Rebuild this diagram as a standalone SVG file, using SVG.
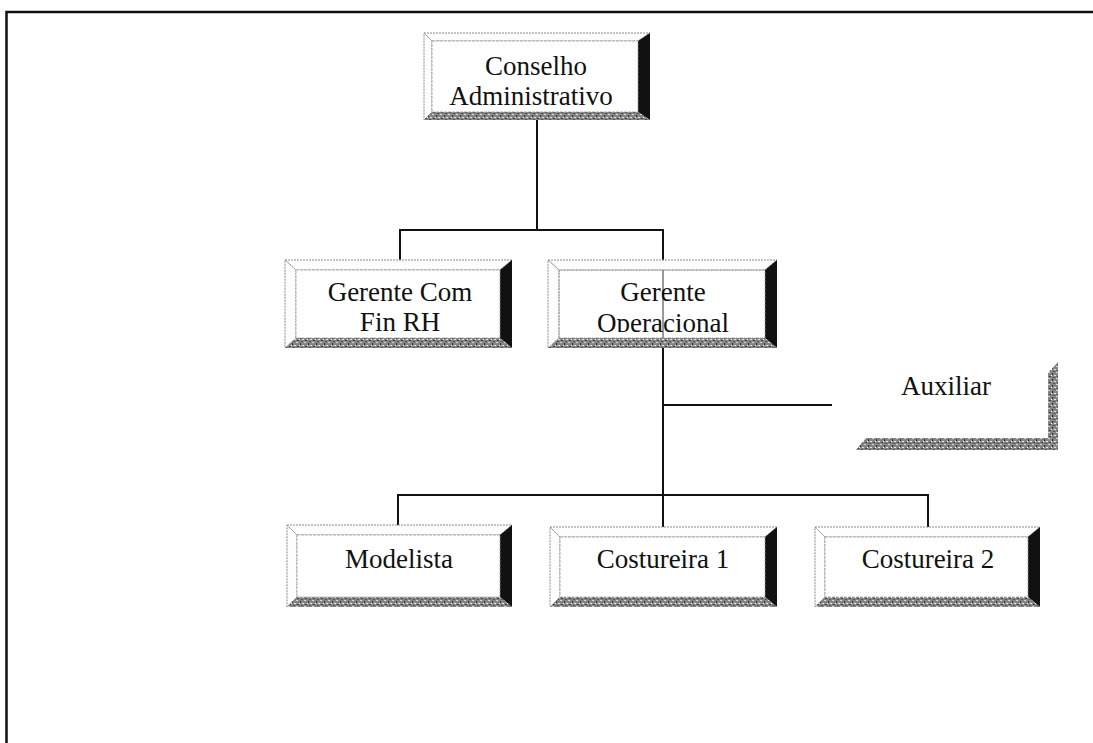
<svg xmlns="http://www.w3.org/2000/svg" width="1093" height="743" viewBox="0 0 1093 743">
  <style>
    .lbl { font-family: "Liberation Serif", "Times New Roman", serif; font-size: 27px; fill: #111; text-anchor: middle; }
    .conn { stroke: #111; stroke-width: 2; fill: none; }
    .frame { stroke: #111; stroke-width: 2.5; fill: none; }
    .lite { fill: #fdfdfd; stroke: #8a8a8a; stroke-width: 1; stroke-dasharray: 2 1; }
    .dark { fill: #111; }
    .grain { fill: url(#grain); }
    .face { fill: #fff; stroke: #9a9a9a; stroke-width: 0.8; stroke-dasharray: 3 1; }
  </style>
  <defs>
    <!-- speckled grey used on the lower/right bevels -->
    <pattern id="grain" width="8" height="6" patternUnits="userSpaceOnUse">
      <rect width="8" height="6" fill="#858585"/>
      <rect x="0" y="0" width="2" height="1" fill="#d8d8d8"/>
      <rect x="4" y="1" width="1" height="2" fill="#333"/>
      <rect x="6" y="3" width="2" height="1" fill="#e4e4e4"/>
      <rect x="1" y="4" width="2" height="1" fill="#444"/>
      <rect x="3" y="3" width="1" height="1" fill="#fff"/>
      <rect x="5" y="5" width="2" height="1" fill="#555"/>
    </pattern>
    <clipPath id="clipConselho"><rect x="434" y="42" width="204" height="63"/></clipPath>
    <clipPath id="clipOper"><rect x="558" y="270" width="208" height="62"/></clipPath>
  </defs>

  <!-- page frame -->
  <path class="frame" d="M6.5 743 V12 H1093"/>

  <!-- connectors -->
  <g id="connectors">
    <path class="conn" d="M537 120 V230 M400 230 H663 M400 229 V260 M663 229 V260"/>
    <path class="conn" d="M663 348 V495 M663 405 H832 M398 495 H928 M398 494 V525 M663 494 V527 M928 494 V527"/>
    <line x1="663" y1="260" x2="663" y2="348" stroke="#777" stroke-width="1"/>
  </g>

  <!-- Conselho Administrativo -->
  <g id="conselho">
    <polygon class="lite" points="424,33 650,33 638,41 432,41"/>
    <polygon class="lite" points="424,33 432,41 432,112 424,120"/>
    <polygon class="dark" points="650,33 650,120 638,112 638,41"/>
    <polygon class="grain" points="424,120 650,120 638,112 432,112"/>
    <rect class="face" x="432" y="41" width="206" height="71"/>
    <g clip-path="url(#clipConselho)">
      <text class="lbl" x="536" y="75">Conselho</text>
      <text class="lbl" x="531" y="105">Administrativo</text>
    </g>
  </g>

  <!-- Gerente Com Fin RH -->
  <g id="gerente-com">
    <polygon class="lite" points="285,260 512,260 500,270 296,270"/>
    <polygon class="lite" points="285,260 296,270 296,338 285,348"/>
    <polygon class="dark" points="512,260 512,348 500,338 500,270"/>
    <polygon class="grain" points="285,348 512,348 500,338 296,338"/>
    <rect class="face" x="296" y="270" width="204" height="68"/>
    <text class="lbl" x="400" y="301">Gerente Com</text>
    <text class="lbl" x="400" y="331">Fin RH</text>
  </g>

  <!-- Gerente Operacional -->
  <g id="gerente-operacional">
    <polygon class="lite" points="548,260 777,260 765,270 559,270"/>
    <polygon class="lite" points="548,260 559,270 559,338 548,348"/>
    <polygon class="dark" points="777,260 777,348 765,338 765,270"/>
    <polygon class="grain" points="548,348 777,348 765,338 559,338"/>
    <rect class="face" x="559" y="270" width="206" height="68" fill-opacity="0"/>
    <line x1="663" y1="270" x2="663" y2="338" stroke="#777" stroke-width="1"/>
    <g clip-path="url(#clipOper)">
      <text class="lbl" x="663" y="301">Gerente</text>
      <text class="lbl" x="663" y="332">Operacional</text>
    </g>
  </g>

  <!-- Auxiliar -->
  <g id="auxiliar">
    <polygon class="grain" points="1048,373 1058,362 1058,450 1048,438"/>
    <polygon class="grain" points="856,450 1058,450 1048,438 866,438"/>
    <text class="lbl" x="946" y="395">Auxiliar</text>
  </g>

  <!-- Modelista -->
  <g id="modelista">
    <polygon class="lite" points="287,525 512,525 500,535 297,535"/>
    <polygon class="lite" points="287,525 297,535 297,597 287,607"/>
    <polygon class="dark" points="512,525 512,607 500,597 500,535"/>
    <polygon class="grain" points="287,607 512,607 500,597 297,597"/>
    <rect class="face" x="297" y="535" width="203" height="62"/>
    <text class="lbl" x="399" y="568">Modelista</text>
  </g>

  <!-- Costureira 1 -->
  <g id="costureira-1">
    <polygon class="lite" points="550,527 777,527 765,537 560,537"/>
    <polygon class="lite" points="550,527 560,537 560,597 550,607"/>
    <polygon class="dark" points="777,527 777,607 765,597 765,537"/>
    <polygon class="grain" points="550,607 777,607 765,597 560,597"/>
    <rect class="face" x="560" y="537" width="205" height="60"/>
    <text class="lbl" x="663" y="568">Costureira 1</text>
  </g>

  <!-- Costureira 2 -->
  <g id="costureira-2">
    <polygon class="lite" points="815,527 1040,527 1028,537 825,537"/>
    <polygon class="lite" points="815,527 825,537 825,597 815,607"/>
    <polygon class="dark" points="1040,527 1040,607 1028,597 1028,537"/>
    <polygon class="grain" points="815,607 1040,607 1028,597 825,597"/>
    <rect class="face" x="825" y="537" width="203" height="60"/>
    <text class="lbl" x="928" y="568">Costureira 2</text>
  </g>
</svg>
